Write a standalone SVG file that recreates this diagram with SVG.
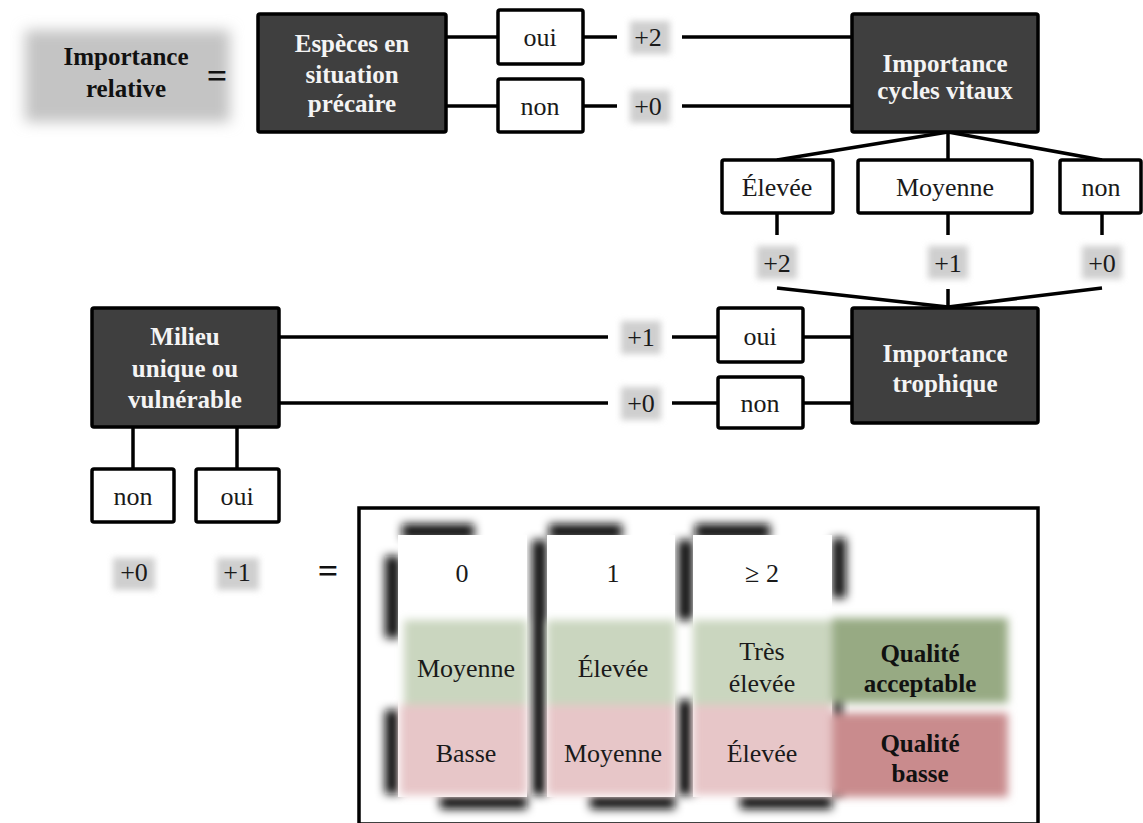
<svg xmlns="http://www.w3.org/2000/svg" width="1143" height="823" viewBox="0 0 1143 823">
<defs>
<filter id="blurL" x="-30%" y="-30%" width="160%" height="160%"><feGaussianBlur stdDeviation="7"/></filter>
<filter id="blurS" x="-30%" y="-30%" width="160%" height="160%"><feGaussianBlur stdDeviation="3"/></filter>
<filter id="blurB" x="-30%" y="-30%" width="160%" height="160%"><feGaussianBlur stdDeviation="4"/></filter>
<filter id="blurM" x="-80%" y="-80%" width="260%" height="260%"><feGaussianBlur stdDeviation="5"/></filter>
<style>
.dark{fill:#3f3f3f;stroke:#000;stroke-width:3.5}
.box{fill:#fff;stroke:#000;stroke-width:3.5}
text{font-family:'Times New Roman','Liberation Serif',Tinos,'Noto Serif','Nimbus Roman','FreeSerif','DejaVu Serif',serif}
.wt{font-weight:bold;font-size:25px;fill:#f4f4f4;text-anchor:middle}
.bt{font-weight:bold;font-size:25px;fill:#111;text-anchor:middle}
.t{font-size:26px;fill:#1a1a1a;text-anchor:middle}
.eq{font-weight:bold;font-size:36px;fill:#111;text-anchor:middle}
.lab{fill:#cfcfcf;filter:url(#blurS)}
.sh{fill:#111;filter:url(#blurM)}
.conn line{stroke:#000;stroke-width:3.5}
</style>
</defs>
<rect width="1143" height="823" fill="#fff"/>

<g id="importance-relative">
<rect x="25" y="30" width="205" height="92" fill="#c4c4c4" filter="url(#blurL)"/>
<text class="bt" x="126" y="65">Importance</text>
<text class="bt" x="126" y="97">relative</text>
<text class="eq" x="217" y="88">=</text>
</g>

<g class="conn" id="connectors">
<line x1="446" y1="37" x2="498" y2="37"/>
<line x1="583" y1="37" x2="617" y2="37"/>
<line x1="682" y1="37" x2="852" y2="37"/>
<line x1="446" y1="106" x2="498" y2="106"/>
<line x1="583" y1="106" x2="617" y2="106"/>
<line x1="682" y1="106" x2="852" y2="106"/>
<line x1="948" y1="132" x2="777" y2="160"/>
<line x1="948" y1="132" x2="948" y2="160"/>
<line x1="948" y1="132" x2="1102" y2="160"/>
<line x1="777" y1="213" x2="777" y2="235"/>
<line x1="948" y1="213" x2="948" y2="235"/>
<line x1="1102" y1="213" x2="1102" y2="235"/>
<line x1="777" y1="288" x2="948" y2="307"/>
<line x1="948" y1="289" x2="948" y2="307"/>
<line x1="1102" y1="288" x2="948" y2="307"/>
<line x1="852" y1="337" x2="803" y2="337"/>
<line x1="718" y1="337" x2="672" y2="337"/>
<line x1="608" y1="337" x2="279" y2="337"/>
<line x1="852" y1="403" x2="803" y2="403"/>
<line x1="718" y1="403" x2="672" y2="403"/>
<line x1="608" y1="403" x2="279" y2="403"/>
<line x1="133" y1="427" x2="133" y2="469"/>
<line x1="237" y1="427" x2="237" y2="469"/>
</g>

<g id="especes">
<rect class="dark" x="258" y="14" width="188" height="118" rx="2"/>
<text class="wt" x="352" y="52">Espèces en</text>
<text class="wt" x="352" y="83">situation</text>
<text class="wt" x="352" y="112">précaire</text>
</g>

<g id="esp-oui"><rect class="box" x="498" y="10" width="85" height="54" rx="2"/><text class="t" x="540" y="46">oui</text></g>
<g id="esp-non"><rect class="box" x="498" y="79" width="85" height="53" rx="2"/><text class="t" x="540" y="115">non</text></g>
<g id="lab-p2-top"><rect class="lab" x="630" y="21" width="40" height="33"/><text class="t" x="648" y="46">+2</text></g>
<g id="lab-p0-top"><rect class="lab" x="630" y="90" width="40" height="33"/><text class="t" x="648" y="115">+0</text></g>

<g id="cycles">
<rect class="dark" x="852" y="14" width="186" height="118" rx="2"/>
<text class="wt" x="945" y="72">Importance</text>
<text class="wt" x="945" y="99">cycles vitaux</text>
</g>

<g id="cyc-elevee"><rect class="box" x="722" y="160" width="111" height="53" rx="2"/><text class="t" x="777" y="196">Élevée</text></g>
<g id="cyc-moyenne"><rect class="box" x="858" y="160" width="174" height="53" rx="2"/><text class="t" x="945" y="196">Moyenne</text></g>
<g id="cyc-non"><rect class="box" x="1060" y="160" width="81" height="53" rx="2"/><text class="t" x="1101" y="196">non</text></g>
<g id="lab-cyc-p2"><rect class="lab" x="757" y="246" width="40" height="33"/><text class="t" x="777" y="272">+2</text></g>
<g id="lab-cyc-p1"><rect class="lab" x="928" y="246" width="40" height="33"/><text class="t" x="948" y="272">+1</text></g>
<g id="lab-cyc-p0"><rect class="lab" x="1082" y="246" width="40" height="33"/><text class="t" x="1102" y="272">+0</text></g>

<g id="trophique">
<rect class="dark" x="852" y="308" width="186" height="115" rx="2"/>
<text class="wt" x="945" y="362">Importance</text>
<text class="wt" x="945" y="392">trophique</text>
</g>
<g id="tro-oui"><rect class="box" x="718" y="308" width="85" height="54" rx="2"/><text class="t" x="760" y="345">oui</text></g>
<g id="tro-non"><rect class="box" x="718" y="377" width="85" height="51" rx="2"/><text class="t" x="760" y="412">non</text></g>
<g id="lab-tro-p1"><rect class="lab" x="621" y="321" width="40" height="33"/><text class="t" x="641" y="346">+1</text></g>
<g id="lab-tro-p0"><rect class="lab" x="621" y="387" width="40" height="33"/><text class="t" x="641" y="412">+0</text></g>

<g id="milieu">
<rect class="dark" x="92" y="308" width="187" height="119" rx="2"/>
<text class="wt" x="185" y="345">Milieu</text>
<text class="wt" x="185" y="377">unique ou</text>
<text class="wt" x="185" y="408">vulnérable</text>
</g>
<g id="mil-non"><rect class="box" x="92" y="469" width="82" height="53" rx="2"/><text class="t" x="133" y="505">non</text></g>
<g id="mil-oui"><rect class="box" x="196" y="469" width="83" height="53" rx="2"/><text class="t" x="237" y="505">oui</text></g>
<g id="lab-mil-p0"><rect class="lab" x="113" y="558" width="42" height="32"/><text class="t" x="134" y="581">+0</text></g>
<g id="lab-mil-p1"><rect class="lab" x="217" y="558" width="42" height="32"/><text class="t" x="237" y="581">+1</text></g>
<text class="eq" x="328" y="583">=</text>

<g id="table">
<rect x="359" y="508" width="679" height="316" fill="#fff" stroke="#000" stroke-width="3.5"/>
<rect class="sh" x="402" y="524" width="72" height="15"/>
<rect class="sh" x="385" y="556" width="15" height="82"/>
<rect class="sh" x="385" y="710" width="15" height="84"/>
<rect class="sh" x="440" y="795" width="87" height="14"/>
<rect class="sh" x="549" y="524" width="73" height="15"/>
<rect class="sh" x="532" y="540" width="15" height="255"/>
<rect class="sh" x="590" y="795" width="85" height="14"/>
<rect class="sh" x="695" y="524" width="75" height="15"/>
<rect class="sh" x="678" y="540" width="15" height="80"/>
<rect class="sh" x="678" y="700" width="15" height="95"/>
<rect class="sh" x="740" y="795" width="92" height="14"/>
<rect class="sh" x="832" y="538" width="14" height="60"/>
<rect class="sh" x="832" y="690" width="10" height="105"/>
<rect x="398" y="535" width="129" height="262" fill="#fff"/>
<rect x="547" y="535" width="128" height="262" fill="#fff"/>
<rect x="693" y="535" width="139" height="262" fill="#fff"/>
<g filter="url(#blurB)">
<rect x="404" y="620" width="123" height="85" fill="#cad6bf"/>
<rect x="547" y="620" width="128" height="85" fill="#cad6bf"/>
<rect x="693" y="620" width="139" height="85" fill="#cad6bf"/>
<rect x="400" y="705" width="127" height="90" fill="#e7c6c8"/>
<rect x="547" y="705" width="128" height="90" fill="#e7c6c8"/>
<rect x="693" y="705" width="139" height="90" fill="#e7c6c8"/>
<rect x="832" y="618" width="176" height="85" fill="#97aa83"/>
<rect x="832" y="713" width="176" height="84" fill="#c98b8d"/>
</g>
<text class="t" x="462" y="582">0</text>
<text class="t" x="613" y="582">1</text>
<text class="t" x="762" y="582">≥ 2</text>
<text class="t" x="466" y="677">Moyenne</text>
<text class="t" x="613" y="677">Élevée</text>
<text class="t" x="762" y="660">Très</text>
<text class="t" x="762" y="692">élevée</text>
<text class="t" x="466" y="762">Basse</text>
<text class="t" x="613" y="762">Moyenne</text>
<text class="t" x="762" y="762">Élevée</text>
<text class="bt" x="920" y="662">Qualité</text>
<text class="bt" x="920" y="692">acceptable</text>
<text class="bt" x="920" y="752">Qualité</text>
<text class="bt" x="920" y="782">basse</text>
</g>
</svg>
